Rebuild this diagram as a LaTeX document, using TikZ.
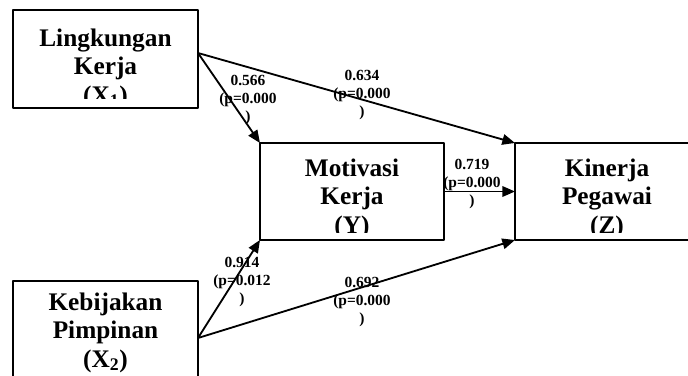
\documentclass[tikz,border=0pt]{standalone}
\usepackage{fontspec}
\setmainfont{Liberation Serif}
\usetikzlibrary{arrows.meta}

\begin{document}
\begin{tikzpicture}[x=0.025cm,y=0.025cm,line cap=round,line join=round,
  varbox/.style={draw,line width=1.3pt,inner sep=0pt,outer sep=0pt},
  varname/.style={anchor=north,align=center,inner sep=0pt,font=\bfseries\fontsize{18}{20}\selectfont},
  coef/.style={align=center,inner sep=0pt,font=\bfseries\fontsize{11}{12.8}\selectfont},
  effect/.style={line width=1.3pt,-{Triangle[length=9pt,width=7.5pt]}}]
  \clip (0,0) rectangle (688,375);
  % boxes
  \node[varbox,minimum width=4.625cm,minimum height=2.45cm] (x1) at (105.5,316) {};
  \node[varbox,minimum width=4.6cm,minimum height=2.425cm] (y) at (352,183.5) {};
  \node[varbox,minimum width=5cm,minimum height=2.425cm] (z) at (615,183.5) {};
  \node[varbox,minimum width=4.625cm,minimum height=2.45cm] (x2) at (105.5,45) {};
  % names, cut at the lower edge of the text frame
  \begin{scope}
    \clip (13,276) rectangle (198,365);
    \node[varname] (x1name) at (105.5,346) {Lingkungan\\Kerja\\(X\textsubscript{1})};
  \end{scope}
  \begin{scope}
    \clip (260,143) rectangle (444,232);
    \node[varname] (yname) at (352,216) {Motivasi\\Kerja\\(Y)};
  \end{scope}
  \begin{scope}
    \clip (515,143) rectangle (688,232);
    \node[varname] (zname) at (607,216) {Kinerja\\Pegawai\\(Z)};
  \end{scope}
  \node[varname] (x2name) at (105.5,82) {Kebijakan\\Pimpinan\\(X\textsubscript{2})};
  % paths
  \coordinate (x1out) at (198,322);
  \coordinate (x2out) at (198,37);
  \draw[effect] (x1out) -- (y.north west);
  \draw[effect] (x1out) -- (z.north west);
  \draw[effect] (y.east) -- (z.west);
  \draw[effect] (x2out) -- (y.south west);
  \draw[effect] (x2out) -- (z.south west);
  % coefficients
  \node[coef] (c1) at (248,275) {0.566\\(p=0.000\\)};
  \node[coef] (c2) at (362,280) {0.634\\(p=0.000\\)};
  \node[coef] (c3) at (472,191) {0.719\\(p=0.000\\)};
  \node[coef] (c4) at (242,93) {0.914\\(p=0.012\\)};
  \node[coef] (c5) at (362,73) {0.692\\(p=0.000\\)};
\end{tikzpicture}
\end{document}
